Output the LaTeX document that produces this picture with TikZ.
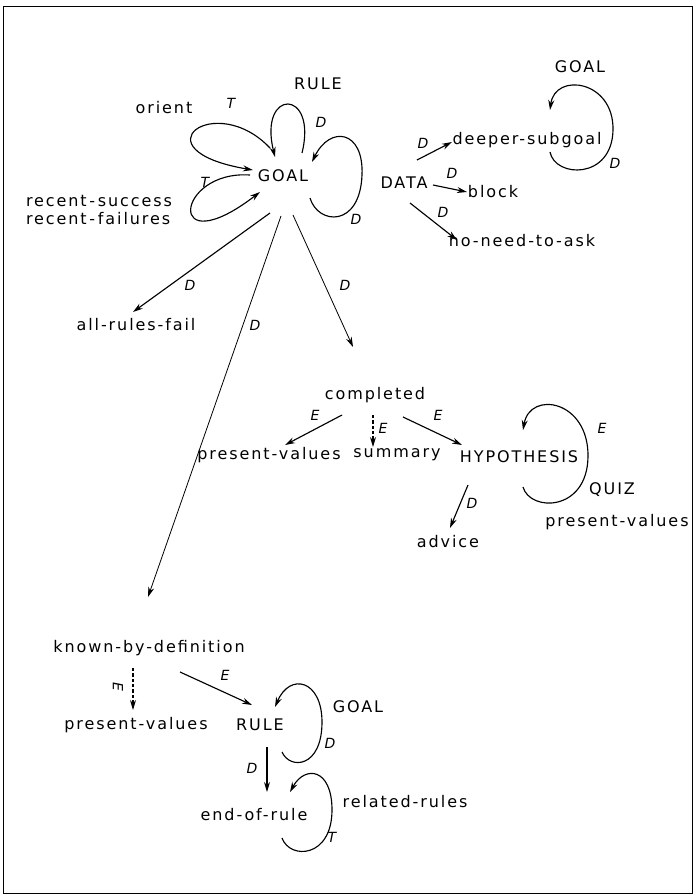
\documentclass[tikz,border=0pt]{standalone}
\usepackage{fontspec}
\setmainfont{DejaVu Sans}[LetterSpace=12]
\usetikzlibrary{arrows.meta,calc}
\begin{document}
\begin{tikzpicture}[x=0.75pt,y=-0.75pt,
  txt/.style={inner sep=0pt, font=\fontsize{12}{13.5}\selectfont},
  lbl/.style={inner sep=0pt, font=\fontsize{10.5}{11}\selectfont\itshape},
  link/.style={line width=0.85pt, -{Stealth[length=7.5pt,width=4.5pt]}},
  thinlink/.style={link, line width=0.6pt},
  dlink/.style={link, dash pattern=on 2.5pt off 1.5pt},
]
\useasboundingbox (0,0) rectangle (695,896);
\draw[line width=0.6pt] (3,6) rectangle (692,893);

% ---- nodes ----
\node[txt] (ruleT) at (318,84) {RULE};
\node[txt] (orient) at (164,108) {orient};
\node[txt] (goalA) at (283,176) {GOAL};
\node[txt, align=left] (recent) at (99,210) {recent\,-\,success\\recent\,-\,failures};
\node[txt] (data) at (404,183) {DATA};
\node[txt] (goalB) at (580,67) {GOAL};
\node[txt] (deeper) at (527,140) {deeper-subgoal};
\node[txt] (block) at (493,192) {block};
\node[txt] (noneed) at (522,241) {no-need-to-ask};
\node[txt] (arf) at (136,325) {all-rules-fail};
\node[txt] (completed) at (375,395) {completed};
\node[txt] (pv1) at (269,455) {present-values};
\node[txt] (summary) at (397,455) {summary};
\node[txt] (hyp) at (519,457) {HYPOTHESIS};
\node[txt] (quiz) at (612,490) {QUIZ};
\node[txt] (pv2) at (617,522) {present-values};
\node[txt] (advice) at (448,542) {advice};
\node[txt] (kbd) at (149,648) {known-by-definition};
\node[txt] (pv3) at (136,725) {present-values};
\node[txt] (ruleB) at (260,725) {RULE};
\node[txt] (goalC) at (358,707) {GOAL};
\node[txt] (eor) at (254,815) {end-of-rule};
\node[txt] (related) at (405,802) {related-rules};

% ---- link labels ----
\node[lbl] (t1) at (231,103) {T};
\node[lbl] (t2) at (205,182) {T};
\node[lbl] (d1) at (321,122) {D};
\node[lbl] (d2) at (356,219) {D};
\node[lbl] (d3) at (423,143) {D};
\node[lbl] (d4) at (452,173) {D};
\node[lbl] (d5) at (443,212) {D};
\node[lbl] (d6) at (615,163) {D};
\node[lbl] (d7) at (190,285) {D};
\node[lbl] (d8) at (255,325) {D};
\node[lbl] (d9) at (345,285) {D};
\node[lbl] (e1) at (315,415) {E};
\node[lbl] (e2) at (383,428) {E};
\node[lbl] (e3) at (438,415) {E};
\node[lbl] (e4) at (602,428) {E};
\node[lbl] (d10) at (472,503) {D};
\node[lbl, rotate=-90] (e5) at (118,687) {E};
\node[lbl] (e6) at (225,675) {E};
\node[lbl] (d11) at (330,743) {D};
\node[lbl] (d12) at (252,768) {D};
\node[lbl] (t3) at (332,837) {T};

% ---- straight connectors ----
\draw[link] ($(goalA)+(-13,37)$) -- ($(arf)+(-3,-13)$);
\draw[thinlink] ($(goalA)+(-2,40)$) -- ($(kbd)+(-1,-51)$);
\draw[thinlink] ($(goalA)+(10,39)$) -- ($(completed)+(-22,-48)$);
\draw[link] ($(data)+(13,-23)$) -- ($(deeper)+(-75,2)$);
\draw[link] ($(data)+(29,2)$) -- ($(block)+(-26,0)$);
\draw[link] ($(data)+(6,20)$) -- ($(noneed)+(-65,-1)$);
\draw[link] ($(completed)+(-33,20)$) -- ($(pv1)+(16,-10)$);
\draw[dlink] ($(completed)+(-2,20)$) -- ($(summary)+(-24,-8)$);
\draw[link] ($(completed)+(28,22)$) -- ($(hyp)+(-57,-12)$);
\draw[link] ($(hyp)+(-51,28)$) -- ($(advice)+(2,-14)$);
\draw[dlink] ($(kbd)+(-16,20)$) -- ($(pv3)+(-3,-15)$);
\draw[link] ($(kbd)+(31,24)$) -- ($(ruleB)+(-8,-20)$);
\draw[link] ($(ruleB)+(7,22)$) -- ($(eor)+(13,-23)$);

% ---- loops ----
% orient loop
\draw[link] ($(goalA)+(-13,-28)$) .. controls +(-55,-58) and +(-118,-20) .. ($(goalA)+(-30,-6)$);
% RULE loop
\draw[link] ($(goalA)+(19,-23)$) .. controls +(16,-65) and +(-17,-69) .. ($(goalA)+(-8,-19)$);
% right loop
\draw[link] ($(goalA)+(27,22)$) .. controls +(8,27) and +(-2,53) .. ($(goalA)+(79,-1)$)
   .. controls +(2,-45) and +(18,-37) .. ($(goalA)+(29,-14)$);
% recent loop
\draw[link] ($(goalA)+(-33,-1)$) .. controls +(-75,-5) and +(-95,73) .. ($(goalA)+(-23,16)$);
% deeper-subgoal loop
\draw[link] ($(deeper)+(23,12)$) .. controls +(5,26) and +(-1,50) .. ($(deeper)+(86,-10)$)
   .. controls +(1,-50) and +(5,-38) .. ($(deeper)+(23,-30)$);
% HYPOTHESIS loop
\draw[link] ($(hyp)+(4,30)$) .. controls +(7,25) and +(-1,55) .. ($(hyp)+(69,0)$)
   .. controls +(1,-57) and +(7,-40) .. ($(hyp)+(4,-27)$);
% RULE (bottom) loop
\draw[link] ($(ruleB)+(22,27)$) .. controls +(8,18) and +(0,46) .. ($(ruleB)+(62,-3)$)
   .. controls +(0,-42) and +(15,-35) .. ($(ruleB)+(15,-18)$);
% end-of-rule loop
\draw[link] ($(eor)+(28,23)$) .. controls +(8,22) and +(0,48) .. ($(eor)+(78,-5)$)
   .. controls +(0,-42) and +(15,-27) .. ($(eor)+(36,-23)$);
\end{tikzpicture}
\end{document}
